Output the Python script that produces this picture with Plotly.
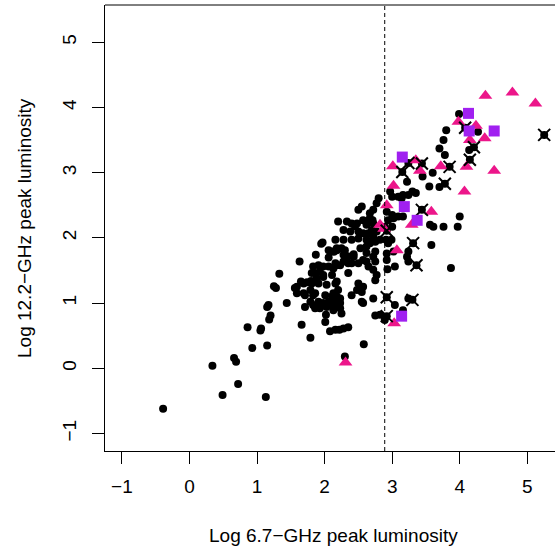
import plotly.graph_objects as go

# ---- data ----
dot_x = [-0.39, 0.34, 0.49, 0.72, 1.13, 0.66, 0.69, 0.93, 1.15, 0.86, 1.05, 1.06, 1.18, 1.20, 1.15, 1.17,
         1.33, 1.25, 1.28, 1.44, 1.63, 1.66, 1.79, 1.56, 1.59, 1.71, 1.86, 2.02, 2.01, 2.08, 2.22, 2.28,
         2.35, 2.30, 2.58, 2.72, 2.93, 2.75, 2.82, 3.04, 1.65, 1.74, 1.80,
         1.83, 1.91, 1.98, 2.06, 2.13, 1.86, 1.98, 2.11, 1.69, 1.91, 2.03, 2.16, 1.71, 1.86, 2.01, 2.11,
         1.79, 1.91, 2.16, 1.83, 1.93, 2.03, 2.13, 2.18, 1.81, 1.93, 1.98, 1.88, 1.81, 2.18, 1.59, 1.69,
         1.79, 1.83, 2.13, 2.18, 2.23, 2.20, 1.98, 2.06, 2.13, 2.23, 2.25,
         2.16, 2.28, 2.35, 2.50, 2.62, 2.35, 2.50, 2.57, 2.55, 2.48, 2.72, 2.77, 2.75, 2.23, 2.40, 2.55,
         2.16, 2.40, 1.87, 2.06, 2.14, 2.28, 2.34, 2.43, 2.62, 2.75, 2.92,
         2.20, 1.97, 1.95, 2.16, 2.18, 2.55, 2.50, 2.72, 2.33, 2.40, 2.48, 2.57, 2.67, 2.62, 2.72, 2.28,
         2.38, 2.50, 2.57, 2.70, 2.77, 2.28, 2.40, 2.50, 2.62, 2.72, 2.82, 2.91, 2.18, 2.30, 2.53, 2.62,
         2.94, 2.99, 2.33, 2.43, 2.57, 2.72, 2.75, 2.92, 2.23, 2.65, 3.24, 3.04, 2.97, 3.16, 3.24, 2.80,
         2.77, 2.67, 2.71, 2.45, 2.25, 2.06, 2.13,
         3.99, 3.80, 3.76, 3.70, 3.78, 4.27, 4.14, 3.60, 3.55, 3.70, 3.45, 3.30, 3.35, 3.22, 3.09, 3.14,
         3.00, 4.00, 3.97, 3.76, 3.56, 3.61, 2.92, 3.00, 2.94, 3.02, 3.09, 3.00, 2.89, 3.16, 3.58, 3.87,
         3.24, 3.22, 3.02, 2.72, 2.75, 2.67, 2.65, 2.53, 2.57, 3.24, 2.89, 3.16]
dot_y = [-0.62, 0.04, -0.41, -0.24, -0.44, 0.16, 0.10, 0.31, 0.35, 0.63, 0.58, 0.61, 0.75, 0.81, 0.94, 0.97,
         1.45, 1.26, 1.23, 1.00, 1.64, 0.67, 0.47, 1.23, 1.15, 0.94, 0.92, 0.82, 0.71, 0.57, 0.59, 0.61,
         0.63, 0.18, 0.37, 1.07, 1.52, 0.81, 0.82, 0.97, 1.33, 1.32, 1.34,
         1.56, 1.58, 1.56, 1.56, 1.53, 1.46, 1.43, 1.43, 1.30, 1.30, 1.28, 1.30, 1.12, 1.15, 1.12, 1.10,
         1.02, 1.02, 1.02, 0.97, 0.92, 0.94, 0.94, 1.58, 1.46, 1.48, 1.40, 1.38, 1.30, 1.33, 1.25, 1.15,
         1.20, 1.12, 1.15, 1.10, 1.07, 1.20, 1.00, 1.02, 0.89, 0.92, 0.84,
         1.61, 1.64, 1.61, 1.61, 1.64, 1.46, 1.30, 1.25, 1.17, 1.20, 1.51, 1.43, 1.35, 1.00, 1.12, 1.02,
         0.59, 1.61, 1.74, 1.70, 1.79, 1.74, 1.72, 1.75, 1.77, 1.79, 1.76,
         2.25, 1.93, 1.91, 1.97, 1.81, 2.48, 2.43, 2.43, 2.25, 2.22, 2.22, 2.27, 2.30, 2.20, 2.22, 2.12,
         2.10, 2.10, 2.07, 2.12, 2.10, 1.97, 1.97, 1.99, 1.97, 1.99, 1.97, 1.97, 1.84, 1.81, 1.84, 1.87,
         1.92, 1.97, 1.69, 1.71, 1.66, 1.71, 1.64, 1.66, 1.58, 1.56, 1.64, 1.56, 2.71, 2.66, 2.66, 2.61,
         2.53, 2.38, 2.27, 2.18, 1.84, 1.81, 1.79,
         3.90, 3.65, 3.50, 3.37, 3.27, 3.63, 3.35, 3.00, 2.79, 2.78, 2.94, 2.71, 2.69, 2.86, 2.63, 2.61,
         2.63, 2.33, 2.17, 2.17, 2.20, 2.17, 2.40, 2.35, 2.27, 2.30, 2.33, 2.17, 2.17, 2.33, 1.89, 1.54,
         1.79, 1.71, 1.79, 2.02, 1.94, 1.92, 2.07, 1.25, 1.00, 1.07, 0.74, 0.89]

cross_x = [5.25, 4.08, 4.21, 4.15, 3.85, 3.78, 3.44, 3.24, 3.15, 3.44, 2.92, 3.31, 3.36, 2.92, 3.30, 2.92]
cross_y = [3.58, 3.69, 3.39, 3.20, 3.09, 2.83, 3.14, 3.15, 3.01, 2.43, 2.11, 1.92, 1.58, 1.09, 1.05, 0.80]

tri_x = [4.38, 4.78, 5.12, 3.98, 4.24, 4.15, 4.37, 4.10, 4.51, 3.72, 4.07, 3.01, 3.35, 3.41, 3.02, 2.92,
         3.58, 3.29, 2.82, 2.88, 3.07, 3.03, 2.31]
tri_y = [4.18, 4.23, 4.06, 3.78, 3.72, 3.50, 3.53, 3.09, 3.03, 3.10, 2.71, 3.10, 3.19, 3.03, 2.80, 2.50,
         2.40, 2.20, 2.20, 2.14, 1.81, 0.69, 0.09]

sq_x = [4.13, 4.14, 4.51, 3.15, 3.18, 3.37, 3.14]
sq_y = [3.91, 3.64, 3.64, 3.24, 2.48, 2.27, 0.80]

cut_x = 2.89
x_ticks = [-1, 0, 1, 2, 3, 4, 5]
y_ticks = [-1, 0, 1, 2, 3, 4, 5]
x_title = "Log 6.7\u2212GHz peak luminosity"
y_title = "Log 12.2\u2212GHz peak luminosity"

FONT = "Liberation Sans, Arial, Helvetica, sans-serif"
PINK = "#EC168A"
PURPLE = "#A020F0"

fig = go.Figure()
fig.add_trace(go.Scatter(x=dot_x, y=dot_y, mode="markers",
                         marker=dict(symbol="circle", size=8, color="black", line=dict(width=0))))
fig.add_trace(go.Scatter(x=cross_x, y=cross_y, mode="markers",
                         marker=dict(symbol="circle", size=8, color="black", line=dict(width=0))))
fig.add_trace(go.Scatter(x=tri_x, y=tri_y, mode="markers",
                         marker=dict(symbol="triangle-up", size=12, color=PINK, line=dict(width=0))))
fig.add_trace(go.Scatter(x=cross_x, y=cross_y, mode="markers",
                         marker=dict(symbol="x-thin-open", size=12, color="black",
                                     line=dict(width=2, color="black"))))
fig.add_trace(go.Scatter(x=sq_x, y=sq_y, mode="markers",
                         marker=dict(symbol="square", size=11, color=PURPLE, line=dict(width=0))))

fig.add_shape(type="line", xref="x", yref="paper", x0=cut_x, x1=cut_x, y0=0, y1=1,
              line=dict(color="black", width=1, dash="4px,3px"))
fig.add_shape(type="line", xref="paper", yref="paper", x0=0, x1=1.05, y0=1, y1=1,
              line=dict(color="black", width=1))

axis_common = dict(showgrid=False, zeroline=False, showline=True, linecolor="black", linewidth=1,
                   ticks="outside", ticklen=12, tickwidth=1, tickcolor="black",
                   tickfont=dict(family=FONT, size=19, color="black"))

fig.update_layout(
    width=555, height=548,
    margin=dict(l=105, r=0, t=5, b=97),
    paper_bgcolor="white", plot_bgcolor="white",
    showlegend=False,
    font=dict(family=FONT, size=19, color="black"),
    xaxis=dict(range=[-1.25, 5.41], tickvals=x_ticks, ticktext=[str(v).replace("-", "\u2212") for v in x_ticks],
               ticklabelstandoff=6, **axis_common),
    yaxis=dict(range=[-1.268, 5.572], tickvals=y_ticks, ticktext=[str(v).replace("-", "\u2212") for v in y_ticks],
               tickangle=-90, ticklabelstandoff=8, **axis_common),
    annotations=[
        dict(text=x_title, xref="paper", yref="paper", x=0.508, y=-0.19, xanchor="center", yanchor="middle",
             showarrow=False, font=dict(family=FONT, size=19, color="black")),
        dict(text=y_title, xref="paper", yref="paper", x=-0.18, y=0.5, xanchor="center", yanchor="middle",
             textangle=-90, showarrow=False, font=dict(family=FONT, size=19, color="black")),
    ],
)

fig.write_html("out.html", config={"displayModeBar": False},
               post_script="document.body.style.margin='0';document.body.style.overflow='hidden';")
